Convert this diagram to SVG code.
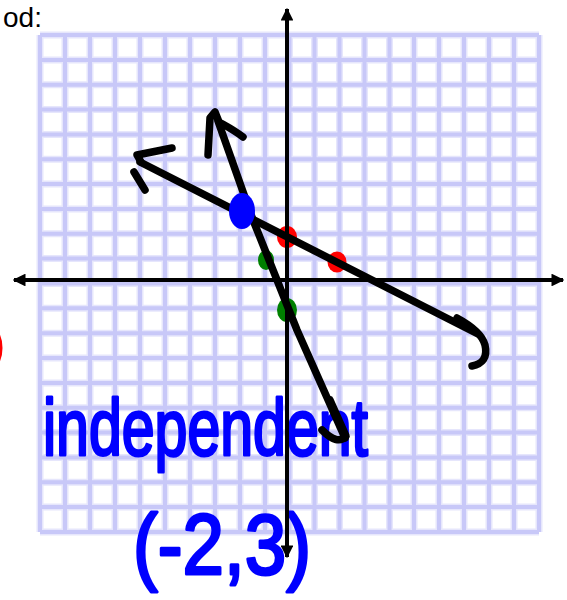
<svg xmlns="http://www.w3.org/2000/svg" width="567" height="600" viewBox="0 0 567 600">
<style>
.glow{stroke:#e6e6fc;stroke-width:7;fill:none}
.grid{stroke:#c8c8f8;stroke-width:4;fill:none}
.axis{stroke:#000;stroke-width:4;fill:none}
.ink{stroke:#000;stroke-width:7.5;fill:none;stroke-linecap:round;stroke-linejoin:round}
.hand{font-family:"Liberation Sans",Arial,sans-serif;fill:#0000ff;stroke:#0000ff;stroke-width:3;stroke-linejoin:round}
</style>
<defs>
<marker id="ah" viewBox="0 0 10 10" refX="9" refY="5" markerWidth="3.2" markerHeight="3.2" orient="auto" markerUnits="strokeWidth">
<path d="M0,0 L10,5 L0,10 Z" fill="#000"/>
</marker>
<path id="gl" d="M40,35V532M65,35V532M90,35V532M115,35V532M140,35V532M165,35V532M190,35V532M215,35V532M240,35V532M265,35V532M289.5,35V532M314.5,35V532M339.5,35V532M364.5,35V532M389.5,35V532M414,35V532M439,35V532M464,35V532M489,35V532M514,35V532M539,35V532M40,35H539M40,60H539M40,84.7H539M40,109.5H539M40,134.4H539M40,159.2H539M40,184.1H539M40,209H539M40,233.8H539M40,258.6H539M40,283.5H539M40,308.3H539M40,333.2H539M40,358H539M40,382.9H539M40,407.7H539M40,432.6H539M40,457.4H539M40,482.3H539M40,507.1H539M40,532H539"/>
</defs>
<rect width="567" height="600" fill="#fff"/>
<text x="3" y="27" font-family="'Liberation Sans',Arial,sans-serif" font-size="28" fill="#000">od:</text>
<ellipse cx="-7" cy="348" rx="8" ry="18" fill="none" stroke="#ff0000" stroke-width="3"/>
<g id="grid">
<use href="#gl" class="glow"/>
<use href="#gl" class="grid"/>
</g>
<g id="labels">
<text id="label-independent" class="hand" x="43" y="455" font-size="80" textLength="325" lengthAdjust="spacingAndGlyphs">independent</text>
<text id="label-point" class="hand" x="133" y="574" font-size="86" textLength="178" lengthAdjust="spacingAndGlyphs">(-2,3)</text>
</g>
<g id="points">
<ellipse id="red1" cx="287" cy="237" rx="10" ry="11" fill="#ff0000"/>
<ellipse id="red2" cx="337" cy="262" rx="9.5" ry="10.5" fill="#ff0000"/>
<ellipse id="green1" cx="266" cy="260" rx="8" ry="10" fill="#008000"/>
<ellipse id="green2" cx="287" cy="310" rx="10" ry="12" fill="#008000"/>
</g>
<g id="axes">
<line class="axis" x1="280" y1="280" x2="14" y2="280" marker-end="url(#ah)"/>
<line class="axis" x1="280" y1="280" x2="563" y2="280" marker-end="url(#ah)"/>
<line class="axis" x1="287" y1="280" x2="287" y2="9" marker-end="url(#ah)"/>
<line class="axis" x1="287" y1="280" x2="287" y2="557" marker-end="url(#ah)"/>
</g>
<g id="connectors">
<g id="line-shallow">
<path class="ink" d="M140,162 L478,334"/>
<path class="ink" d="M172,148 L137,155 L141,162"/>
<path class="ink" d="M134,172 L145,190"/>
<path class="ink" stroke-width="9" d="M457,318 C470,325 482,334 485,345 C488,358 482,364 472,366"/>
</g>
<g id="line-steep">
<path class="ink" d="M218,121 L253,220 L297,330 L345,438"/>
<path class="ink" d="M208,155 L210,118 L215,112 L219,122 C226,126 234,130 243,137"/>
<path class="ink" stroke-width="9" d="M330,400 L346,436 Q338,446 322,430"/>
</g>
</g>
<g id="solution">
<ellipse id="blue" cx="242" cy="211" rx="13" ry="18" fill="#0000ff"/>
</g>
</svg>
